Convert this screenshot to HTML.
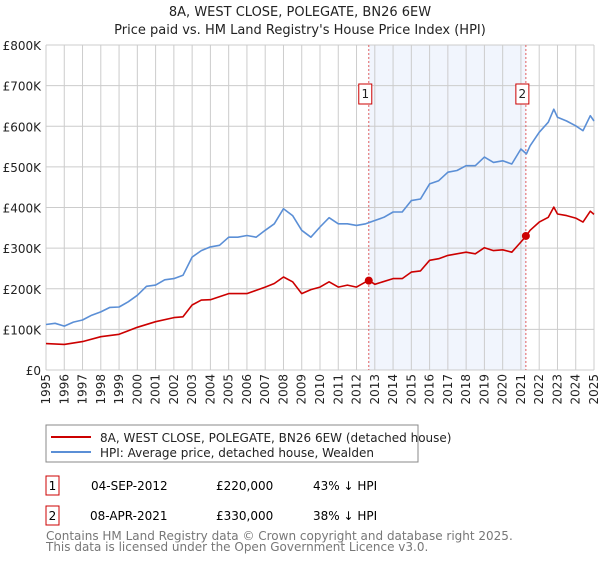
<!DOCTYPE html>
<html><head><meta charset="utf-8"><style>
body{margin:0;background:#fff;font-family:"Liberation Sans","DejaVu Sans",sans-serif;}
svg text{font-family:"DejaVu Sans","Liberation Sans",sans-serif;}
</style></head><body>
<svg id="c" width="600" height="560" xmlns="http://www.w3.org/2000/svg">
<text x="300" y="16" text-anchor="middle" font-size="13" fill="#222">8A, WEST CLOSE, POLEGATE, BN26 6EW</text>
<text x="300" y="34" text-anchor="middle" font-size="13" fill="#222">Price paid vs. HM Land Registry's House Price Index (HPI)</text>
<g id="grid"></g><g id="series"></g><g id="axes"></g>
<g>
<rect x="46" y="425" width="372" height="37" fill="#fff" stroke="#888"/>
<line x1="51" y1="437" x2="91" y2="437" stroke="#cc0000" stroke-width="2"/>
<text x="100" y="442" font-size="12" fill="#222">8A, WEST CLOSE, POLEGATE, BN26 6EW (detached house)</text>
<line x1="51" y1="452" x2="91" y2="452" stroke="#5b8fd6" stroke-width="2"/>
<text x="100" y="457" font-size="12" fill="#222">HPI: Average price, detached house, Wealden</text>
</g>
<g>
<rect x="46" y="476" width="13" height="19" fill="#fff" stroke="#cc0000"/>
<text x="52.5" y="490" text-anchor="middle" font-size="12">1</text>
<text x="91" y="490" font-size="12">04-SEP-2012</text>
<text x="216" y="490" font-size="12">£220,000</text>
<text x="313" y="490" font-size="12">43% ↓ HPI</text>
</g>
<g>
<rect x="46" y="506" width="13" height="19" fill="#fff" stroke="#cc0000"/>
<text x="52.5" y="520" text-anchor="middle" font-size="12">2</text>
<text x="90" y="520" font-size="12">08-APR-2021</text>
<text x="216" y="520" font-size="12">£330,000</text>
<text x="313" y="520" font-size="12">38% ↓ HPI</text>
</g>
<text x="46" y="540" font-size="12" fill="#777">Contains HM Land Registry data © Crown copyright and database right 2025.</text>
<text x="46" y="551" font-size="12" fill="#777">This data is licensed under the Open Government Licence v3.0.</text>
</svg>
<script>
const hpiYears=[1995,1995.5,1996,1996.5,1997,1997.5,1998,1998.5,1999,1999.5,2000,2000.5,2001,2001.5,2002,2002.5,2003,2003.5,2004,2004.5,2005,2005.5,2006,2006.5,2007,2007.5,2008,2008.5,2009,2009.5,2010,2010.5,2011,2011.5,2012,2012.5,2013,2013.5,2014,2014.5,2015,2015.5,2016,2016.5,2017,2017.5,2018,2018.5,2019,2019.5,2020,2020.5,2021,2021.3,2021.5,2022,2022.5,2022.8,2023,2023.5,2024,2024.4,2024.8,2025];
const hpiValues=[112,115,108,118,123,135,143,154,155,168,184,206,209,222,225,233,278,294,303,307,327,327,331,327,344,360,397,380,344,327,352,375,360,360,356,360,368,376,389,389,417,421,458,466,487,491,503,503,524,511,515,507,544,532,552,585,610,642,622,613,601,589,626,613];
const priceYears=[1995,1996,1997,1998,1999,2000,2001,2002,2002.5,2003,2003.5,2004,2005,2006,2006.5,2007,2007.5,2008,2008.5,2009,2009.5,2010,2010.5,2011,2011.5,2012,2012.67,2013,2014,2014.5,2015,2015.5,2016,2016.5,2017,2018,2018.5,2019,2019.5,2020,2020.5,2021,2021.27,2021.5,2022,2022.5,2022.8,2023,2023.5,2024,2024.4,2024.8,2025];
const priceValues=[65,63,70,82,88,105,119,129,131,160,172,173,188,188,196,204,213,229,217,188,198,204,217,204,209,204,221,211,225,225,241,244,270,274,282,290,286,301,294,296,290,315,329,344,364,376,401,384,380,374,364,391,383];
const saleYears=[2012.67,2021.27];
const saleValues=[220,330];
const saleLabels=["1","2"];
const yTicks=[0,100,200,300,400,500,600,700,800];
const yTickLabels=["£0","£100K","£200K","£300K","£400K","£500K","£600K","£700K","£800K"];
const xTicks=[1995,1996,1997,1998,1999,2000,2001,2002,2003,2004,2005,2006,2007,2008,2009,2010,2011,2012,2013,2014,2015,2016,2017,2018,2019,2020,2021,2022,2023,2024,2025];

const L=46,R=594,T=45,B=370,NS="http://www.w3.org/2000/svg";
const xs=y=>L+(y-1995)/30*(R-L);
const ys=v=>B-v/800*(B-T);
function mk(tag,attrs,parent){const e=document.createElementNS(NS,tag);for(const k in attrs)e.setAttribute(k,attrs[k]);parent.appendChild(e);return e;}
const grid=document.getElementById('grid'),ser=document.getElementById('series'),ax=document.getElementById('axes');
let sh=mk('rect',{x:xs(saleYears[0]),y:T,width:xs(saleYears[1])-xs(saleYears[0]),height:B-T,fill:'#eef3fc',opacity:0.8},grid);


yTicks.forEach((v,i)=>{
 let g=mk('line',{x1:L,x2:R,y1:ys(v),y2:ys(v),stroke:'#ccc'},grid);
 
 
 let t=mk('text',{x:L-5,y:ys(v)+5,'text-anchor':'end','font-size':12,fill:'#222'},ax);
 t.textContent=yTickLabels[i];
 
 
});
xTicks.forEach(y=>{
 let g=mk('line',{x1:xs(y),x2:xs(y),y1:T,y2:B,stroke:'#ccc'},grid);
 
 
 let t=mk('text',{x:0,y:0,'text-anchor':'end','font-size':12,fill:'#222',transform:`translate(${xs(y)+4},${B+4}) rotate(-90)`},ax);
 t.textContent=y;
 
 
});
mk('line',{x1:L,x2:L,y1:T,y2:B,stroke:'#ccc'},grid);
saleYears.forEach((y,i)=>{
 let l=mk('line',{x1:xs(y),x2:xs(y),y1:T,y2:B,stroke:'#e06060','stroke-dasharray':'2,2'},ser);
 
 
});
function path(xsA,vs,color,name){
 let d=xsA.map((y,i)=>(i?'L':'M')+xs(y).toFixed(1)+','+ys(vs[i]).toFixed(1)).join('');
 let p=mk('path',{d,fill:'none',stroke:color,'stroke-width':1.6,'stroke-linejoin':'round'},ser);
 
 
}
path(hpiYears,hpiValues,'#5b8fd6','hpi-line');
path(priceYears,priceValues,'#cc0000','price-line');
saleYears.forEach((y,i)=>{
 let c=mk('circle',{cx:xs(y),cy:ys(saleValues[i]),r:4,fill:'#cc0000'},ser);
 
 
 let bx=xs(y)-10;
 let r=mk('rect',{x:bx,y:84,width:13,height:20,fill:'#fff',stroke:'#cc0000'},ser);
 
 
 let t=mk('text',{x:bx+6.5,y:98,'text-anchor':'middle','font-size':12,fill:'#222'},ser);
 t.textContent=saleLabels[i];
 
 
});
</script>
</body></html>
